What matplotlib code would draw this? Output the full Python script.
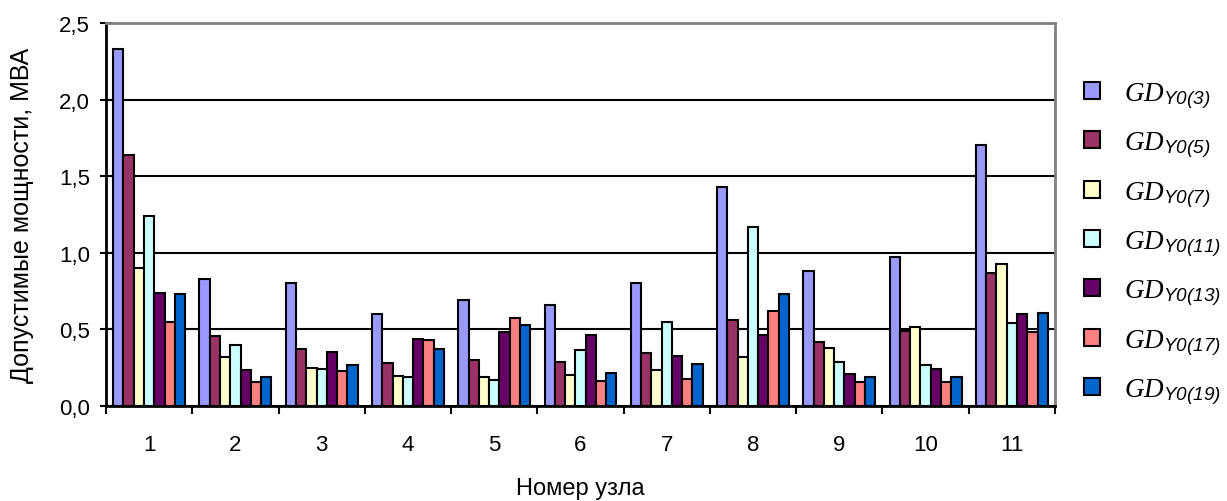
import numpy as np
import matplotlib
matplotlib.use('Agg')
import matplotlib.pyplot as plt

plt.rcParams['font.family'] = ['Liberation Sans', 'DejaVu Sans']
plt.rcParams['mathtext.fontset'] = 'custom'
plt.rcParams['mathtext.rm'] = 'Liberation Serif'
plt.rcParams['mathtext.it'] = 'Liberation Serif:italic'
plt.rcParams['mathtext.sf'] = 'Liberation Sans:italic'

# node numbers
nodes = ['1', '2', '3', '4', '5', '6', '7', '8', '9', '10', '11']
harmonics = ['3', '5', '7', '11', '13', '17', '19']

gd3 = [2.33, 0.83, 0.80, 0.60, 0.69, 0.66, 0.80, 1.43, 0.88, 0.975, 1.705]
gd5 = [1.64, 0.46, 0.375, 0.28, 0.30, 0.29, 0.345, 0.56, 0.415, 0.49, 0.87]
gd7 = [0.90, 0.32, 0.25, 0.195, 0.19, 0.20, 0.235, 0.32, 0.38, 0.515, 0.93]
gd11 = [1.24, 0.40, 0.24, 0.19, 0.17, 0.365, 0.55, 1.17, 0.29, 0.27, 0.54]
gd13 = [0.74, 0.235, 0.35, 0.435, 0.48, 0.465, 0.325, 0.465, 0.21, 0.24, 0.60]
gd17 = [0.55, 0.155, 0.23, 0.43, 0.575, 0.16, 0.175, 0.62, 0.155, 0.155, 0.48]
gd19 = [0.73, 0.19, 0.27, 0.37, 0.53, 0.215, 0.275, 0.73, 0.19, 0.19, 0.61]
series = [gd3, gd5, gd7, gd11, gd13, gd17, gd19]

colors = ['#9999FF', '#993366', '#FFFFCC', '#CCFFFF', '#660066', '#FF8080', '#0066CC']

fig = plt.figure(figsize=(12.27, 5.02), dpi=100)
ax = fig.add_axes([106/1227, 1-407/502, 949/1227, 383/502])

x = np.arange(len(nodes))
w = 0.119
bars = []
for i, vals in enumerate(series):
    b = ax.bar(x + (i-3)*w, vals, w, color=colors[i], edgecolor='black', linewidth=1.5, zorder=3,
               label=r'$\mathit{GD}_{\mathsf{Y0(%s)}}$' % harmonics[i])
    bars.append(b)

ax.set_xlim(-0.5, 10.5)
ax.set_ylim(0, 2.5)
yt = np.arange(0, 2.51, 0.5)
ax.set_yticks(yt)
ax.set_yticklabels([('%.1f' % v).replace('.', ',') for v in yt])
ax.yaxis.grid(True, color='black', linewidth=1.5, zorder=0)
ax.set_axisbelow(True)

# category ticks sit between groups, labels at centres
ax.set_xticks(np.arange(-0.5, 11, 1))
ax.set_xticklabels([])
ax.set_xticks(x, minor=True)
ax.set_xticklabels(nodes, minor=True)
ax.tick_params(axis='x', which='major', direction='out', length=6, width=1.5)
ax.tick_params(axis='x', which='minor', length=0, pad=20, labelsize=16)
ax.tick_params(axis='y', direction='inout', length=9, width=1.5, pad=7, labelsize=16)

for s in ['left', 'bottom']:
    ax.spines[s].set_linewidth(2)
    ax.spines[s].set_color('black')
for s in ['top', 'right']:
    ax.spines[s].set_linewidth(2)
    ax.spines[s].set_color('#808080')

ax.set_ylabel('Допустимые мощности, МВА', fontsize=18, va='center')
ax.yaxis.set_label_coords(-0.088, 0.5)
ax.set_xlabel('Номер узла', fontsize=17, va='center')
ax.xaxis.set_label_coords(0.5, -0.214)

fig.legend(handles=bars, loc='center left', bbox_to_anchor=(1084/1227, 1-244/502),
           frameon=False, fontsize=19.5, borderpad=0, borderaxespad=0,
           handlelength=0.58, handleheight=0.58, handletextpad=0.9, labelspacing=0.72)

fig.savefig('out.png', dpi=100)
